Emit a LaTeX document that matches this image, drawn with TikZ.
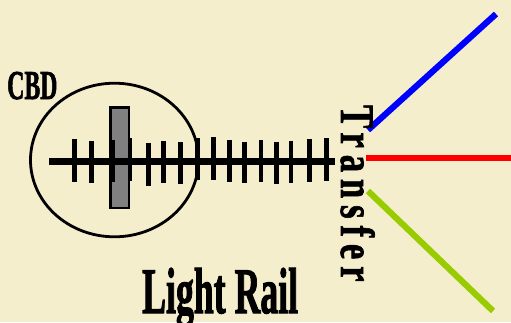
\documentclass[tikz,border=0pt]{standalone}
\usepackage{fontspec}
\setmainfont{Liberation Serif}
\definecolor{bgcream}{HTML}{F5EECD}
\definecolor{railgreen}{HTML}{99CC00}
\definecolor{railgray}{HTML}{808080}
\tikzset{
  tickmark/.style={line width=4.8pt},
  spine/.style={line width=6.2pt},
  branch/.style={line width=6.2pt},
  label/.style={inner sep=0pt}
}
\begin{document}
\begin{tikzpicture}[x=1pt,y=-1pt]
\fill[bgcream] (0,0) rectangle (511,322);
\useasboundingbox (0,0) rectangle (511,322);
% CBD ellipse
\draw[line width=2.8pt] (114.5,160) ellipse [x radius=84, y radius=76.8];
% station block
\draw[line width=2.6pt, fill=railgray] (110.5,107.2) rectangle (128.8,207.8);
% main line
\coordinate (lineW) at (49,161.5);
\coordinate (lineE) at (335,161.5);
\draw[spine] (lineW) -- (lineE);
% ticks
\foreach \x/\a/\b in {74.3/139.3/181.7, 91.7/141/182.7, 112.3/140/181.7, 130/138.3/180.7,
  148.7/143.3/185.7, 163.3/141/183.3, 180.7/142.3/184.3, 197.5/138/180,
  213.3/137.3/180, 229.3/140/182.3, 244.3/141.7/183.3, 261/140/182.3,
  276.7/141.7/184, 291/140.7/183.3, 309.3/139.3/181.7, 326.7/138.3/180.7}
  \draw[tickmark] (\x,\a) -- (\x,\b);
% branches
\coordinate (bS) at (368,130);
\coordinate (bE) at (496,14);
\coordinate (rS) at (366,158);
\coordinate (rE) at (511,158);
\coordinate (gS) at (368,191);
\coordinate (gE) at (493,311);
\draw[branch, blue] (bS) -- (bE);
\draw[branch, red] (rS) -- (rE);
\draw[branch, railgreen] (gS) -- (gE);
% labels
\node[label, anchor=base west, font=\fontsize{41}{41}\bfseries] (cbd) at (7,99) {\addfontfeature{FakeBold=2}\scalebox{0.58}[1]{CBD}};
\node[label, anchor=base west, font=\fontsize{65}{65}\bfseries] (lr) at (142,313) {\addfontfeature{FakeBold=2}\scalebox{0.55}[1]{Light Rail}};
\node[label, anchor=base west, rotate=-90, font=\fontsize{48}{48}\bfseries] (tr) at (341,105) {\scalebox{0.72}[1]{\addfontfeature{LetterSpace=20,FakeBold=1.5}Transfer}};
\end{tikzpicture}
\end{document}
